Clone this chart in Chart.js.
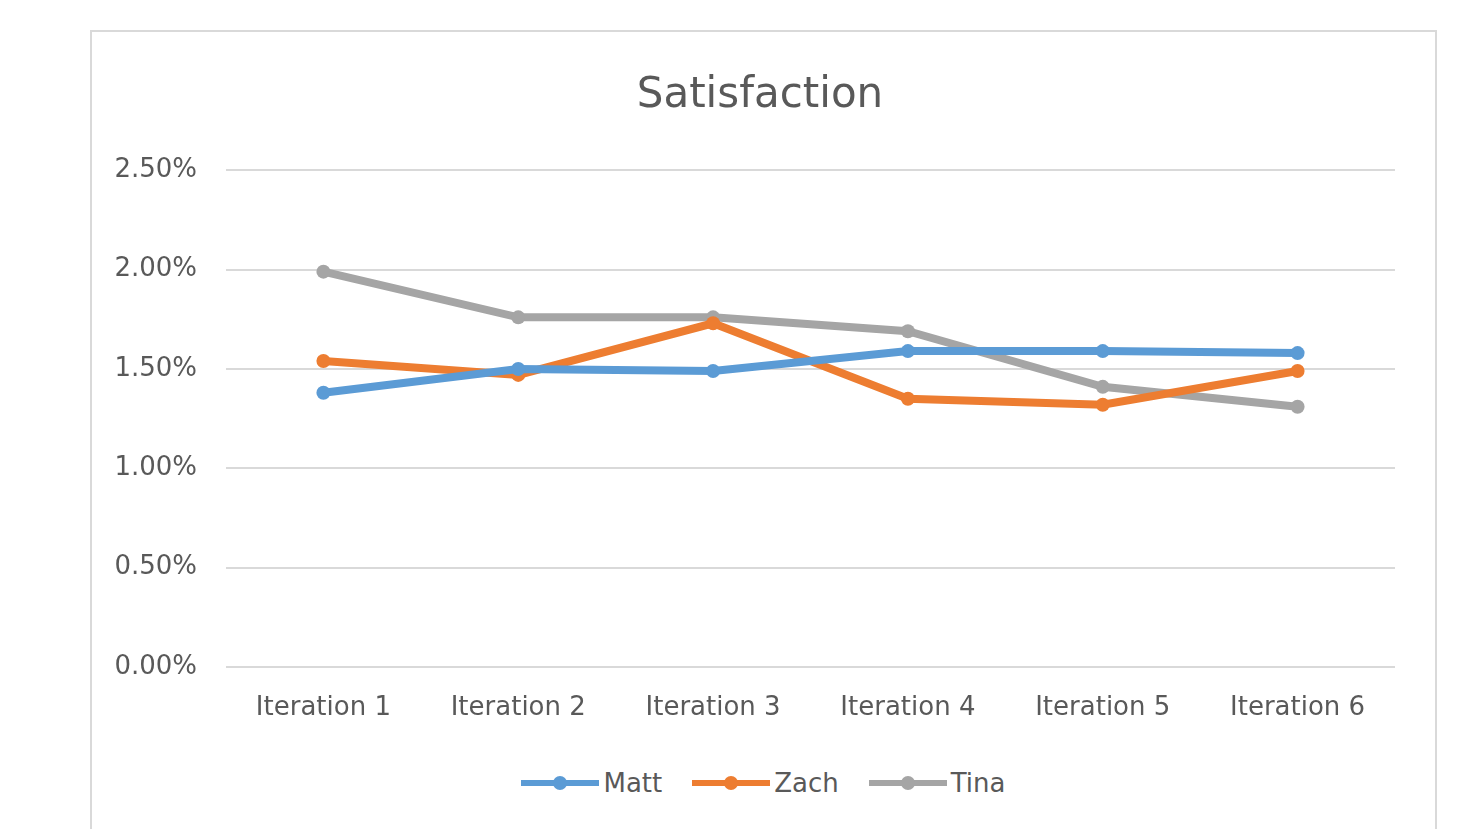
<!DOCTYPE html>
<html>
<head>
<meta charset="utf-8">
<script src="https://cdn.jsdelivr.net/npm/chart.js@4"></script>
<style>
  html, body { margin: 0; padding: 0; background: #fff; overflow: hidden; }
  #box {
    position: absolute; left: 90px; top: 30px; width: 1343px; height: 820px;
    border: 2px solid #d9d9d9; border-bottom: none; background: #fff;
  }
  #chartWrap { position: absolute; left: 0; top: 0; width: 1343px; height: 726px; }
  #legend {
    position: absolute; left: 0; width: 1343px; top: 731px; height: 40px;
    display: flex; justify-content: center; align-items: center;
    font-family: "DejaVu Sans", sans-serif; font-size: 26px; color: #595959;
  }
  .item { display: flex; align-items: center; margin: 0 15px; }
  .line { position: relative; width: 78px; height: 6px; margin-right: 4px; }
  .dot { position: absolute; left: 32px; top: -4px; width: 14px; height: 14px; border-radius: 50%; }
</style>
</head>
<body>
<div id="box">
  <div id="chartWrap"><canvas id="chart"></canvas></div>
  <div id="legend"></div>
</div>
<script>
const categories = ['Iteration 1','Iteration 2','Iteration 3','Iteration 4','Iteration 5','Iteration 6'];
const matt = [1.38, 1.50, 1.49, 1.59, 1.59, 1.58];
const zach = [1.54, 1.47, 1.73, 1.35, 1.32, 1.49];
const tina = [1.99, 1.76, 1.76, 1.69, 1.41, 1.31];
const seriesNames = ['Matt','Zach','Tina'];
const seriesColors = ['#5b9bd5','#ed7d31','#a5a5a5'];
const yTicks = [0, 0.5, 1.0, 1.5, 2.0, 2.5];

const fontFamily = '"DejaVu Sans", sans-serif';
const allSeries = [matt, zach, tina];

const datasets = allSeries.map((vals, i) => ({
    label: seriesNames[i],
    data: vals,
    borderColor: seriesColors[i],
    backgroundColor: seriesColors[i],
    borderWidth: 8,
    pointRadius: 7,
    pointHoverRadius: 7,
    pointBorderWidth: 0,
    tension: 0
}));

const ctx = document.getElementById('chart').getContext('2d');
const chart = new Chart(ctx, {
    type: 'line',
    data: { labels: categories, datasets: datasets },
    options: {
        responsive: true,
        maintainAspectRatio: false,
        animation: false,
        layout: { padding: { top: 0, right: 7, bottom: 8, left: 0 } },
        plugins: {
            legend: { display: false },
            tooltip: { enabled: false },
            title: {
                display: true,
                text: 'Satisfaction',
                color: '#595959',
                font: { family: fontFamily, size: 42, weight: 'normal' },
                padding: { top: 39, bottom: 49 }
            }
        },
        scales: {
            x: {
                offset: true,
                grid: { display: false, drawTicks: false },
                border: { display: false },
                ticks: {
                    color: '#595959',
                    padding: 26,
                    maxRotation: 0,
                    font: { family: fontFamily, size: 26 }
                }
            },
            y: {
                min: yTicks[0],
                max: yTicks[yTicks.length - 1],
                afterBuildTicks: s => { s.ticks = yTicks.map(v => ({ value: v })); },
                afterFit: s => { s.width = 134; },
                grid: { color: '#d9d9d9', lineWidth: 2, drawTicks: false },
                border: { display: false },
                ticks: {
                    color: '#595959',
                    padding: 29,
                    font: { family: fontFamily, size: 26 },
                    callback: v => v.toFixed(2) + '%'
                }
            },
            // empty right-hand space so the title stays centred on the frame
            yRight: {
                position: 'right',
                min: 0,
                max: 1,
                afterFit: s => { s.width = 33; },
                grid: { display: false, drawTicks: false },
                border: { display: false },
                ticks: { display: false }
            }
        }
    }
});

// legend: line with marker, like the spreadsheet legend
const legend = document.getElementById('legend');
chart.data.datasets.forEach(ds => {
    const item = document.createElement('div');
    item.className = 'item';
    const line = document.createElement('span');
    line.className = 'line';
    line.style.background = ds.borderColor;
    const dot = document.createElement('span');
    dot.className = 'dot';
    dot.style.background = ds.borderColor;
    line.appendChild(dot);
    const txt = document.createElement('span');
    txt.textContent = ds.label;
    item.appendChild(line);
    item.appendChild(txt);
    legend.appendChild(item);
});
</script>
</body>
</html>
